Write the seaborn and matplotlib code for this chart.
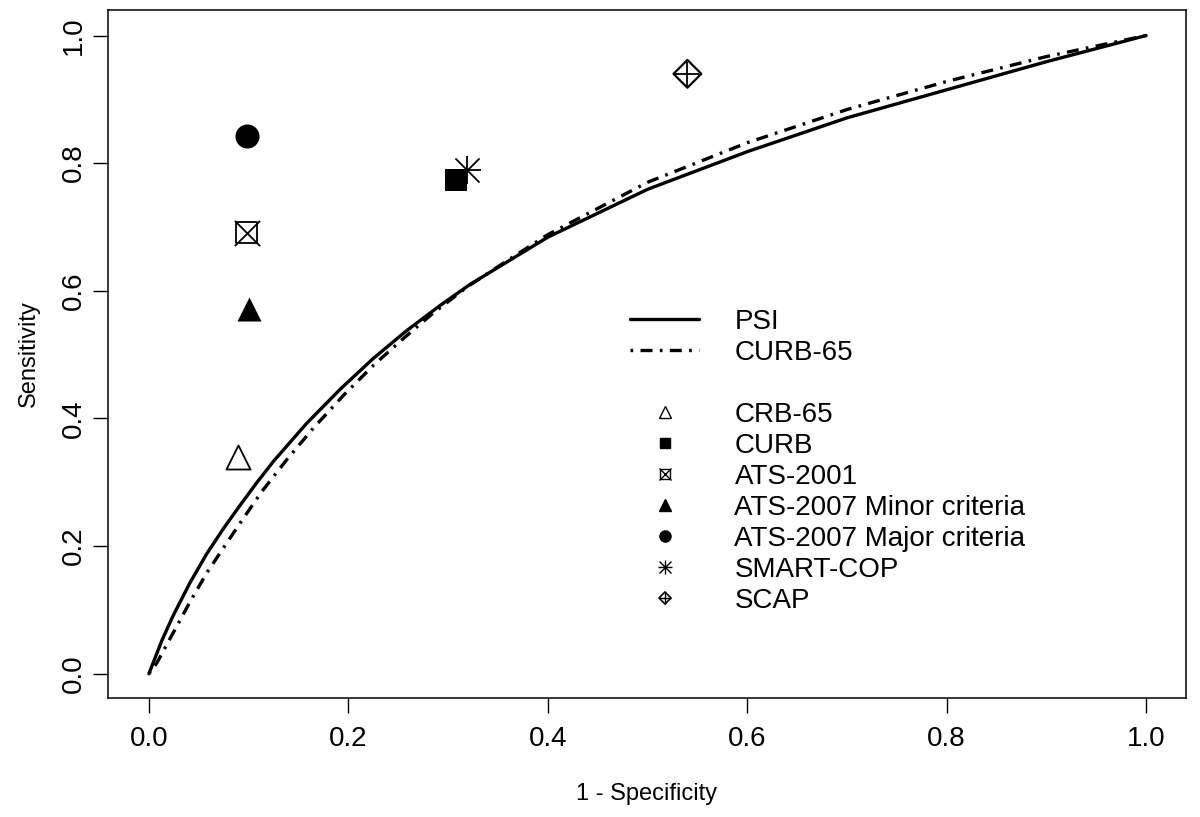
import matplotlib
matplotlib.use("Agg")
import matplotlib.pyplot as plt
from matplotlib.lines import Line2D
import pandas as pd
import seaborn as sns

# ROC curves
psi_fpr = [0.0, 0.003, 0.013, 0.024, 0.041, 0.058, 0.075, 0.091, 0.108, 0.125,
           0.158, 0.192, 0.225, 0.258, 0.292, 0.322, 0.4, 0.5, 0.6, 0.7, 0.8,
           0.9, 1.0]
psi_tpr = [0.0, 0.012, 0.052, 0.090, 0.142, 0.188, 0.228, 0.263, 0.299, 0.333,
           0.392, 0.446, 0.494, 0.537, 0.577, 0.610, 0.684, 0.759, 0.818, 0.871,
           0.915, 0.959, 1.0]
curb65_fpr = [0.0, 0.008, 0.024, 0.041, 0.058, 0.076, 0.091, 0.113, 0.138, 0.165,
              0.195, 0.225, 0.255, 0.285, 0.32, 0.36, 0.4, 0.5, 0.6, 0.7, 0.8,
              0.9, 1.0]
curb65_tpr = [0.0, 0.017, 0.063, 0.112, 0.158, 0.200, 0.235, 0.285, 0.335, 0.385,
              0.436, 0.483, 0.525, 0.565, 0.607, 0.648, 0.688, 0.770, 0.832, 0.884,
              0.928, 0.967, 1.0]

# single operating points (1 - specificity, sensitivity)
rules = ["CRB-65", "CURB", "ATS-2001", "ATS-2007 Minor criteria",
         "ATS-2007 Major criteria", "SMART-COP", "SCAP"]
rule_fpr = [0.089, 0.308, 0.098, 0.100, 0.098, 0.319, 0.540]
rule_tpr = [0.340, 0.773, 0.691, 0.571, 0.843, 0.790, 0.940]

ticks = [0.0, 0.2, 0.4, 0.6, 0.8, 1.0]
tick_labels = ["0.0", "0.2", "0.4", "0.6", "0.8", "1.0"]

sns.set_theme(style="white")
plt.rcParams["font.family"] = ["Liberation Sans", "DejaVu Sans"]
plt.rcParams.update({"text.color": "black", "axes.labelcolor": "black",
                     "xtick.color": "black", "ytick.color": "black"})

psi = pd.DataFrame({"fpr": psi_fpr, "tpr": psi_tpr})
curb65 = pd.DataFrame({"fpr": curb65_fpr, "tpr": curb65_tpr})
pts = pd.DataFrame({"rule": rules, "fpr": rule_fpr, "tpr": rule_tpr})

DOTDASH = (0, (0.8, 2.2, 3.6, 2.2))
LW = 2.4

fig = plt.figure(figsize=(12, 8.17), dpi=100)
ax = fig.add_axes([108 / 1200, 1 - 698 / 817, 1078 / 1200, 688 / 817])

sns.lineplot(data=psi, x="fpr", y="tpr", color="black", lw=LW, ax=ax)
sns.lineplot(data=curb65, x="fpr", y="tpr", color="black", lw=LW,
             linestyle=DOTDASH, ax=ax)

# marker styles, R pch look-alikes
styles = {
    "CRB-65": [dict(marker="^", facecolor="white", edgecolor="black", s=300, linewidth=1.3)],
    "CURB": [dict(marker="s", color="black", s=230, linewidth=0)],
    "ATS-2001": [dict(marker="s", facecolor="none", edgecolor="black", s=230, linewidth=1.3),
                 dict(marker="x", color="black", s=330, linewidth=1.3)],
    "ATS-2007 Minor criteria": [dict(marker="^", color="black", s=300, linewidth=0)],
    "ATS-2007 Major criteria": [dict(marker="o", color="black", s=300, linewidth=0)],
    "SMART-COP": [dict(marker="+", color="black", s=420, linewidth=1.3),
                  dict(marker="x", color="black", s=300, linewidth=1.3)],
    "SCAP": [dict(marker="D", facecolor="none", edgecolor="black", s=200, linewidth=1.6),
             dict(marker="+", color="black", s=300, linewidth=1.3)],
}
for rule in rules:
    sub = pts[pts["rule"] == rule]
    for st in styles[rule]:
        sns.scatterplot(data=sub, x="fpr", y="tpr", ax=ax, zorder=3, legend=False, **st)

ax.set_xlim(-0.041, 1.04)
ax.set_ylim(-0.038, 1.04)
ax.set_xticks(ticks)
ax.set_xticklabels(tick_labels, fontsize=20)
ax.set_yticks(ticks)
ax.set_yticklabels(tick_labels, fontsize=20, rotation=90, va="center")
ax.tick_params(axis="both", direction="out", length=10.5, width=1.0,
               bottom=True, left=True)
ax.tick_params(axis="x", pad=10)
ax.tick_params(axis="y", pad=5)
for sp in ax.spines.values():
    sp.set_visible(True)
    sp.set_color("black")
    sp.set_linewidth(1.1)

ax.set_xlabel("1 - Specificity", fontsize=17, labelpad=22)
ax.set_ylabel("Sensitivity", fontsize=17, labelpad=15)

# legend
def mk(**kw):
    return Line2D([], [], linestyle="none", color="black", **kw)

handles = [
    Line2D([], [], color="black", lw=LW),
    Line2D([], [], color="black", lw=LW, linestyle=DOTDASH),
    Line2D([], [], linestyle="none"),
    mk(marker="^", markerfacecolor="white", markersize=8, markeredgewidth=1),
    mk(marker="s", markersize=7),
    (mk(marker="s", markerfacecolor="none", markersize=7, markeredgewidth=1),
     mk(marker="x", markersize=8, markeredgewidth=1)),
    mk(marker="^", markersize=8),
    mk(marker="o", markersize=8),
    (mk(marker="+", markersize=10, markeredgewidth=1), mk(marker="x", markersize=8, markeredgewidth=1)),
    (mk(marker="D", markerfacecolor="none", markersize=6.5, markeredgewidth=1.2),
     mk(marker="+", markersize=8, markeredgewidth=1)),
]
labels = ["PSI", "CURB-65", ""] + rules
ax.legend(handles, labels, loc="upper left", frameon=False,
          bbox_to_anchor=(630 / 1200, 1 - 309 / 817), bbox_transform=fig.transFigure,
          borderpad=0, borderaxespad=0, fontsize=20, handlelength=2.5,
          handletextpad=1.26, labelspacing=0.18)

fig.savefig("out.png", dpi=100, facecolor="white")
